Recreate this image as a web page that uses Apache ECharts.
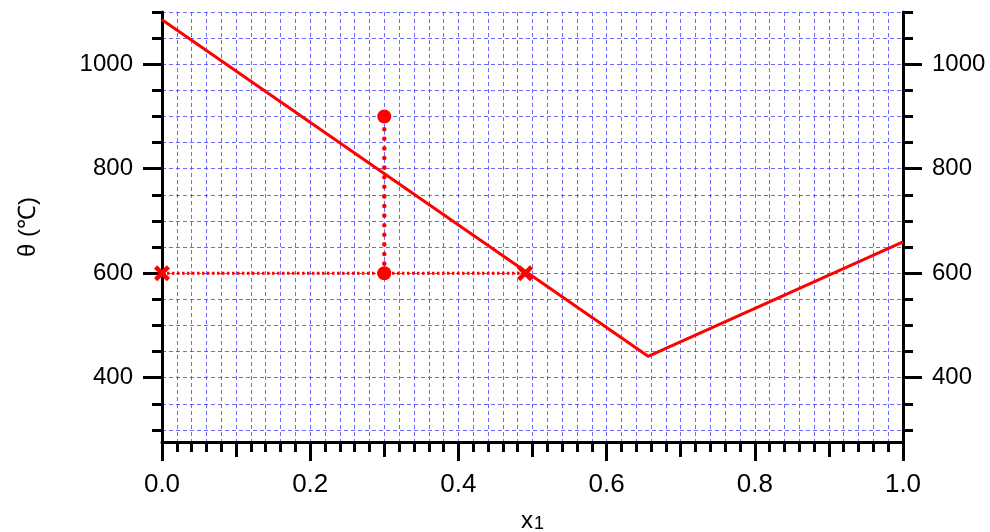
<!DOCTYPE html>
<html>
<head>
<meta charset="utf-8">
<script src="https://cdn.jsdelivr.net/npm/echarts@6/dist/echarts.min.js"></script>
<style>
  html, body { margin: 0; padding: 0; background: #fff; }
  #main { width: 990px; height: 532px; }
</style>
</head>
<body>
<div id="main"></div>
<script>
// liquidus curve theta vs x1
var liquidus = [[0, 1085], [0.656, 441], [1.0, 660]];
// tie line at 600 C with its two end crosses
var tieLine = [[0, 600], [0.49, 600]];
// cooling path of the mixture at x1 = 0.3
var coolPath = [[0.3, 600], [0.3, 900]];

// tick positions
var xMajor = [0, 0.2, 0.4, 0.6, 0.8, 1.0];
var xMid = [0.1, 0.3, 0.5, 0.7, 0.9];
var xMinor = [];
for (var i = 0; i <= 50; i++) xMinor.push(+(i * 0.02).toFixed(2));
var yMajor = [400, 600, 800, 1000];
var yMinor = [300, 350, 400, 450, 500, 550, 600, 650, 700, 750, 800, 850, 900, 950, 1000, 1050, 1100];

var yMin = 277, yMax = 1100;
var FONT = 'Liberation Sans';
var red = '#ff0000';
var gridLine = { show: true, lineStyle: { color: 'rgba(70,70,255,0.8)', width: 1, type: [4, 3] } };
var crossPath = 'path://M2,0 L5,3 L8,0 L10,2 L7,5 L10,8 L8,10 L5,7 L2,10 L0,8 L3,5 L0,2 Z';

var myChart = echarts.init(document.getElementById('main'));

function xAx(ticks, len, withLine, withLabel, withSplit) {
  return {
    type: 'value', min: 0, max: 1, position: 'bottom',
    axisLine: { show: withLine, onZero: false, lineStyle: { color: '#000', width: 3 } },
    axisTick: { show: true, length: len, customValues: ticks, lineStyle: { color: '#000', width: 3 } },
    axisLabel: withLabel ? {
      show: true, customValues: ticks, margin: 30, color: '#000', fontFamily: FONT, fontSize: 26,
      formatter: function (v) { return v.toFixed(1); }
    } : { show: false },
    splitLine: withSplit ? gridLine : { show: false }
  };
}

function yAx(pos, ticks, len, withLine, withLabel, withSplit) {
  return {
    type: 'value', min: yMin, max: yMax, position: pos,
    axisLine: { show: withLine, onZero: false, lineStyle: { color: '#000', width: 3 } },
    axisTick: { show: true, length: len, customValues: ticks, lineStyle: { color: '#000', width: 3 } },
    axisLabel: withLabel ? {
      show: true, customValues: ticks, margin: 29, color: '#000', fontFamily: FONT, fontSize: 24,
      formatter: function (v) { return String(v); }
    } : { show: false },
    splitLine: withSplit ? gridLine : { show: false }
  };
}

var xAxes = [
  xAx(xMinor, 10, true, false, true),
  xAx(xMid, 15, false, false, false),
  xAx(xMajor, 19, false, true, false)
];
xAxes[2].name = '{a|x}{b|1}';
xAxes[2].nameLocation = 'middle';
xAxes[2].nameGap = 54;
xAxes[2].nameTextStyle = {
  color: '#000', fontFamily: FONT,
  rich: {
    a: { fontSize: 24, fontFamily: FONT, color: '#000', lineHeight: 24, verticalAlign: 'top' },
    b: { fontSize: 18, fontFamily: FONT, color: '#000', lineHeight: 18, verticalAlign: 'bottom', padding: [12, 0, 0, 1] }
  }
};

var yAxes = [
  yAx('left', yMinor, 10, true, false, true),
  yAx('left', yMajor, 19, false, true, false),
  yAx('right', yMinor, 10, true, false, false),
  yAx('right', yMajor, 19, false, true, false)
];
yAxes[1].name = 'θ (℃)';
yAxes[1].nameLocation = 'middle';
yAxes[1].nameGap = 122;
yAxes[1].nameTextStyle = { color: '#000', fontFamily: FONT, fontSize: 24 };

var option = {
  backgroundColor: '#fff',
  animation: false,
  grid: { left: 162, right: 87, top: 12, bottom: 90, containLabel: false, outerBoundsMode: 'none' },
  xAxis: xAxes,
  yAxis: yAxes,
  series: [
    {
      type: 'line', data: liquidus, showSymbol: false, symbol: 'none',
      lineStyle: { color: red, width: 3 }, z: 3
    },
    {
      type: 'line', data: tieLine, symbol: 'none',
      lineStyle: { color: red, width: 3, type: [2.5, 2.5] }, z: 3
    },
    {
      type: 'line', data: coolPath, symbol: 'none',
      lineStyle: { color: red, width: 4.5, type: [0.1, 9.5], cap: 'round' }, z: 3
    },
    {
      type: 'scatter', data: tieLine, symbol: crossPath, symbolSize: 16,
      itemStyle: { color: red, opacity: 1 }, z: 5
    },
    {
      type: 'scatter', data: coolPath, symbol: 'circle', symbolSize: 14,
      itemStyle: { color: red, opacity: 1 }, z: 5
    }
  ]
};
myChart.setOption(option);
</script>
</body>
</html>
